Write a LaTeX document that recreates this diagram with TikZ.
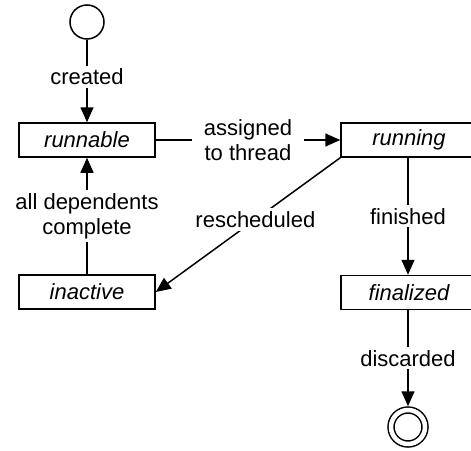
\documentclass[tikz,border=0pt]{standalone}
\usepackage{fontspec}
\setmainfont{Liberation Sans}
\usetikzlibrary{arrows.meta}
\tikzset{
    every node/.style={
        font=\fontsize{22}{25}\selectfont},
    statebox/.style={
        draw,
        rectangle,
        line width=1.5pt,
        minimum width=136pt,
        minimum height=34pt,
        font=\fontsize{22}{25}\selectfont\itshape},
    initialdot/.style={
        draw,
        circle,
        line width=1.5pt,
        inner sep=0pt,
        minimum size=34pt},
    finaldot/.style={
        draw,
        circle,
        double,
        double distance=4.5pt,
        line width=1.5pt,
        inner sep=0pt,
        outer sep=3.75pt,
        minimum size=34pt},
    lbl/.style={
        fill=white,
        align=center,
        inner xsep=3pt,
        inner ysep=3pt},
    every edge/.style={
        draw,
        -{Triangle[length=15pt,width=13pt]},
        line width=1.5pt}}

\begin{document}
\begin{tikzpicture}[x=1pt,y=1pt]
        \clip (0,0) rectangle (471,-450);

        \node[initialdot] (start) at (87,-22) {};
        \node[statebox] (runnable) at (87,-140) {runnable};
        \node[statebox] (running) at (409,-140) {running};
        \node[statebox] (inactive) at (87,-292) {inactive};
        \node[statebox] (finalized) at (409,-292.5) {finalized};
        \node[finaldot] (stop) at (408,-427) {};

        \draw (start) edge node[lbl,pos=0.45] {created} (runnable);
        \draw (runnable) edge node[lbl,inner xsep=12pt] {assigned\\to thread} (running);
        \draw (inactive) edge node[lbl] {all dependents\\complete} (runnable);
        \draw (running.south west) edge node[lbl,pos=0.46] {rescheduled} (inactive.east);
        \draw (running.south -| stop) edge node[lbl] {finished} (finalized.north -| stop);
        \draw (finalized.south -| stop) edge node[lbl] {discarded} (stop);
    \end{tikzpicture}
\end{document}
